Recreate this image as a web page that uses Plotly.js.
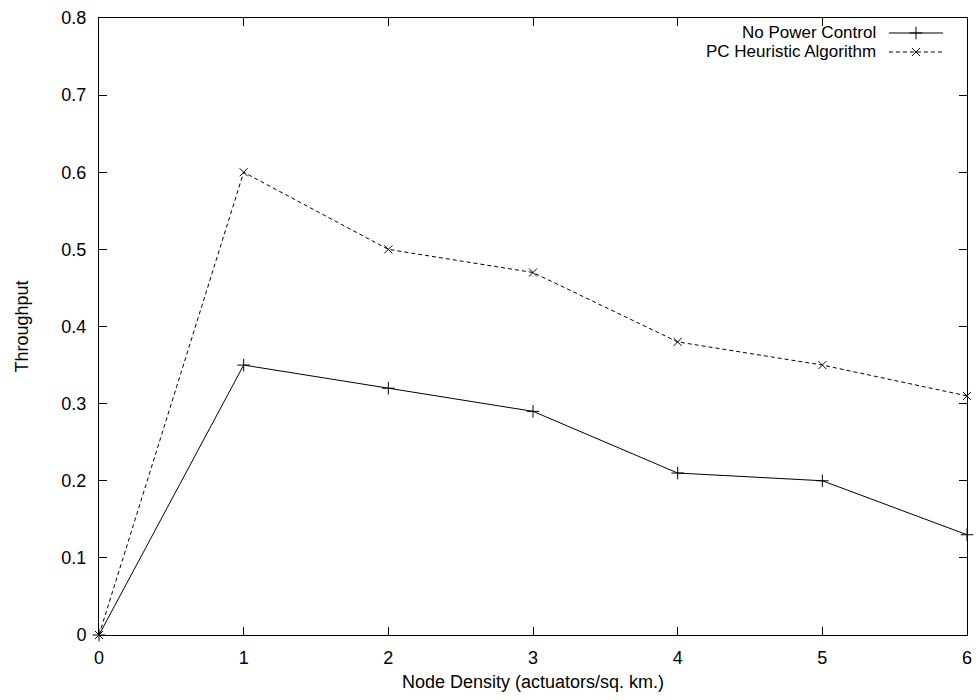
<!DOCTYPE html>
<html>
<head>
<meta charset="utf-8">
<script src="https://cdn.plot.ly/plotly-3.0.1.min.js"></script>
<style>html,body{margin:0;padding:0;background:#fff;}#chart{width:977px;height:700px;}</style>
</head>
<body>
<div id="chart"></div>
<script>
const density = [0, 1, 2, 3, 4, 5, 6];
const noPowerControl = [0, 0.35, 0.32, 0.29, 0.21, 0.20, 0.13];
const pcHeuristic = [0, 0.60, 0.50, 0.47, 0.38, 0.35, 0.31];
const seriesNames = ["No Power Control", "PC Heuristic Algorithm"];
const xTicks = [0, 1, 2, 3, 4, 5, 6];
const yTicks = [0, 0.1, 0.2, 0.3, 0.4, 0.5, 0.6, 0.7, 0.8];

const FONT = "Liberation Sans, Arial, Helvetica, sans-serif";
const FS = 18;
const LFS = 17;
const dashStyle = "4px,3px";
const row1 = 0.9757, row2 = 0.9449;

const traces = [
  {x: density, y: noPowerControl, name: seriesNames[0], mode: "lines+markers",
   line: {color: "#000", width: 1},
   marker: {symbol: "cross-thin", size: 9, line: {color: "#000", width: 1}},
   showlegend: false, cliponaxis: false},
  {x: density, y: pcHeuristic, name: seriesNames[1], mode: "lines+markers",
   line: {color: "#000", width: 1, dash: dashStyle},
   marker: {symbol: "x-thin", size: 8, line: {color: "#000", width: 1}},
   showlegend: false, cliponaxis: false},
  // legend samples (overlay axes in 0..1 units)
  {x: [0.910, 0.9724], y: [row1, row1], xaxis: "x2", yaxis: "y2", mode: "lines",
   line: {color: "#000", width: 1}, showlegend: false, hoverinfo: "skip"},
  {x: [0.9412], y: [row1], xaxis: "x2", yaxis: "y2", mode: "markers",
   marker: {symbol: "cross-thin", size: 9, line: {color: "#000", width: 1}}, showlegend: false, hoverinfo: "skip"},
  {x: [0.910, 0.9724], y: [row2, row2], xaxis: "x2", yaxis: "y2", mode: "lines",
   line: {color: "#000", width: 1, dash: dashStyle}, showlegend: false, hoverinfo: "skip"},
  {x: [0.9412], y: [row2], xaxis: "x2", yaxis: "y2", mode: "markers",
   marker: {symbol: "x-thin", size: 8, line: {color: "#000", width: 1}}, showlegend: false, hoverinfo: "skip"}
];

const layout = {
  width: 977, height: 700,
  margin: {l: 99, r: 10, t: 18, b: 65},
  paper_bgcolor: "#fff", plot_bgcolor: "#fff",
  font: {family: FONT, size: FS, color: "#000"},
  showlegend: false,
  xaxis: {
    range: [0, 6], tickvals: xTicks, ticktext: xTicks.map(String),
    ticks: "inside", ticklen: 8, tickwidth: 1, tickcolor: "#000",
    showline: true, linecolor: "#000", linewidth: 1, mirror: "ticks",
    showgrid: false, zeroline: false, automargin: false,
    tickfont: {family: FONT, size: FS}, ticklabelstandoff: 6,
    title: {text: "Node Density (actuators/sq. km.)", font: {family: FONT, size: FS}, standoff: 8}
  },
  yaxis: {
    range: [0, 0.8], tickvals: yTicks, ticktext: yTicks.map(v => v === 0 ? "0" : v.toFixed(1)),
    ticks: "inside", ticklen: 8, tickwidth: 1, tickcolor: "#000",
    showline: true, linecolor: "#000", linewidth: 1, mirror: "ticks",
    showgrid: false, zeroline: false, automargin: false,
    tickfont: {family: FONT, size: FS}, ticklabelstandoff: 8,
    title: {text: "Throughput", font: {family: FONT, size: FS}, standoff: 28}
  },
  xaxis2: {range: [0, 1], overlaying: "x", visible: false, fixedrange: true},
  yaxis2: {range: [0, 1], overlaying: "y", visible: false, fixedrange: true},
  annotations: [
    {xref: "paper", yref: "paper", x: 0.8963, y: row1, xanchor: "right", yanchor: "middle",
     text: seriesNames[0], showarrow: false, borderpad: 0, font: {family: FONT, size: LFS}},
    {xref: "paper", yref: "paper", x: 0.8963, y: row2, xanchor: "right", yanchor: "middle",
     text: seriesNames[1], showarrow: false, borderpad: 0, font: {family: FONT, size: LFS}}
  ]
};

Plotly.newPlot("chart", traces, layout, {displayModeBar: false, staticPlot: true});
</script>
</body>
</html>
